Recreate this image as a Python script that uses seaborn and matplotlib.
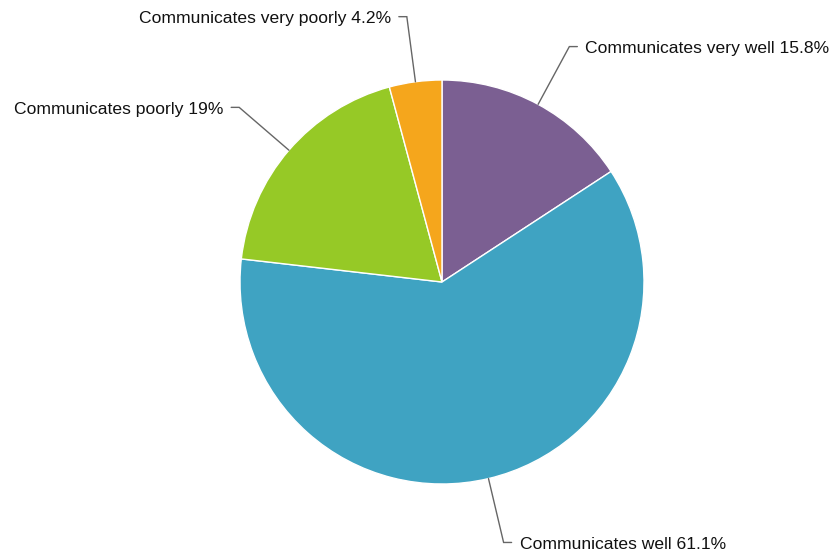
import numpy as np
import matplotlib
matplotlib.use("Agg")
import matplotlib.pyplot as plt
import seaborn as sns

categories = ["Communicates very well", "Communicates well",
              "Communicates poorly", "Communicates very poorly"]
shares = [15.8, 61.1, 19.0, 4.2]
share_labels = ["15.8%", "61.1%", "19%", "4.2%"]
slice_colors = ["#7B5F92", "#3FA3C2", "#96C926", "#F5A61C"]

sns.set_theme(style="white")
plt.rcParams["font.family"] = ["Liberation Sans", "DejaVu Sans"]

W, H = 836, 556
fig = plt.figure(figsize=(W / 100, H / 100), dpi=100)
ax = fig.add_axes([0, 0, 1, 1])

cx, cy, R = 442, H - 282, 202
palette = sns.color_palette(slice_colors)
wedges, _ = ax.pie(shares, colors=palette, startangle=90, counterclock=False,
                   radius=R, center=(cx, cy),
                   wedgeprops=dict(edgecolor="white", linewidth=1.0))

for w, name, lab in zip(wedges, categories, share_labels):
    mid = np.deg2rad((w.theta1 + w.theta2) / 2)
    x0, y0 = cx + R * np.cos(mid), cy + R * np.sin(mid)
    x1, y1 = cx + 1.325 * R * np.cos(mid), cy + 1.325 * R * np.sin(mid)
    side = 1 if np.cos(mid) >= 0 else -1
    x2 = x1 + side * 8
    ax.plot([x0, x1, x2], [y0, y1, y1], color="#666666", lw=1.0,
            solid_joinstyle="miter")
    ax.text(x2 + side * 8, y1 - 2, f"{name} {lab}",
            ha="left" if side > 0 else "right",
            va="center", fontsize=12.6, color="#111111")

ax.set_xlim(0, W)
ax.set_ylim(0, H)
ax.set_aspect("equal")
ax.axis("off")
fig.savefig("out.png", dpi=100, facecolor="white")
